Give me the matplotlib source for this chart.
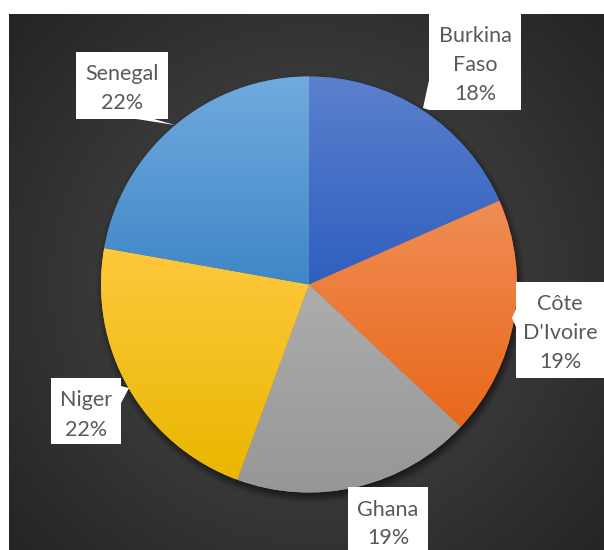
import numpy as np
import matplotlib
matplotlib.use("Agg")
import matplotlib.pyplot as plt
from matplotlib.patches import Rectangle, Polygon
from matplotlib.colors import to_rgb

# ---- data ----
categories = ["Burkina Faso", "Côte D'Ivoire", "Ghana", "Niger", "Senegal"]
values = [18.4, 18.6, 18.6, 22.2, 22.2]

# ---- styles ----
top_colors = ["#5b80cd", "#f08d55", "#adadad", "#ffc83e", "#71aade"]
bot_colors = ["#2f5fbf", "#e8681a", "#969696", "#e9b700", "#3f87c7"]
text_color = "#595959"

W, H = 604, 550
fig = plt.figure(figsize=(W / 100, H / 100), dpi=100, facecolor="white")
ax = fig.add_axes([0, 0, 1, 1])
ax.set_xlim(0, W)
ax.set_ylim(0, H)
ax.axis("off")

def py(y):  # pixel-from-top to data y
    return H - y

# background: radial gradient dark panel
bx0, by0 = 9, 14
cx, cy_px, r = 309, 284.5, 208
cy = py(cy_px)
xs = np.arange(bx0, W) + 0.5
ys = np.arange(by0, H) + 0.5
X, Y = np.meshgrid(xs, ys)
D = np.hypot(X - cx, Y - cy_px)
t = np.clip(D / 430.0, 0, 1)
c0, c1 = 78 / 255, 33 / 255
v = c0 + (c1 - c0) * t
bg = np.dstack([v, v, v])
ax.imshow(bg, extent=[bx0, W, py(H), py(by0)], origin="upper", aspect="auto",
          zorder=0, interpolation="bilinear")

# shadow under pie
sx = np.arange(cx - r - 40, cx + r + 40)
sy = np.arange(cy - r - 40, cy + r + 40)
SX, SY = np.meshgrid(sx, sy)
Ds = np.hypot(SX - (cx + 2), SY - (cy - 5))
a = np.clip((r + 9 - Ds) / 16.0, 0, 1)
a = a * a * (3 - 2 * a) * 0.6
shadow = np.zeros(SX.shape + (4,))
shadow[..., 3] = a
ax.imshow(shadow, extent=[sx[0], sx[-1], sy[0], sy[-1]], origin="lower",
          aspect="auto", zorder=1, interpolation="bilinear")

# pie
wedges, _ = ax.pie(values, startangle=90, counterclock=False, center=(cx, cy),
                   radius=r, colors=bot_colors, frame=True,
                   wedgeprops=dict(linewidth=0, antialiased=True))
for w, tc, bc in zip(wedges, top_colors, bot_colors):
    w.set_zorder(2)
    verts = w.get_path().vertices
    ymin, ymax = verts[:, 1].min(), verts[:, 1].max()
    xmin, xmax = verts[:, 0].min(), verts[:, 0].max()
    n = 256
    tt = np.linspace(0, 1, n)[:, None]
    ct, cb = np.array(to_rgb(tc)), np.array(to_rgb(bc))
    grad = cb[None, :] * (1 - tt) + ct[None, :] * tt  # bottom->top
    grad = np.repeat(grad[:, None, :], 2, axis=1)
    im = ax.imshow(grad, extent=[xmin, xmax, ymin, ymax], origin="lower",
                   aspect="auto", zorder=3, interpolation="bilinear")
    im.set_clip_path(w)

ax.set_xlim(0, W)
ax.set_ylim(0, H)
ax.set_aspect("auto")
ax.axis("off")

# ---- labels (callouts) ----
# box: (x0, y0, x1, y1) in pixels from top-left; text centre; pointer polygon
layout = {
    "Burkina Faso": dict(box=(429, 14, 521, 110), tc=(475, 63),
                         ptr=[(429.5, 78), (429.5, 110), (423, 108)]),
    "Côte D'Ivoire": dict(box=(516, 282, 605, 378), tc=(560, 331),
                          ptr=[(516.5, 308), (516.5, 328), (512, 318)]),
    "Ghana": dict(box=(348, 487, 428, 555), tc=(388, 522), ptr=None),
    "Niger": dict(box=(51, 378, 121, 444), tc=(86, 413),
                  ptr=[(120.5, 386), (120.5, 404), (129, 388)]),
    "Senegal": dict(box=(76, 52, 168, 119), tc=(122, 86.5),
                    ptr=[(133, 118.5), (152, 118.5), (175, 125)]),
}

total = sum(values)
line_h = 29
for cat, val in zip(categories, values):
    L = layout[cat]
    x0, y0, x1, y1 = L["box"]
    ax.add_patch(Rectangle((x0, py(y1)), x1 - x0, y1 - y0, facecolor="white",
                           edgecolor="none", zorder=5))
    if L["ptr"]:
        ax.add_patch(Polygon([(px, py(pyy)) for px, pyy in L["ptr"]], closed=True,
                             facecolor="white", edgecolor="none", zorder=5))
    lines = cat.split(" ") + [f"{round(val / total * 100):.0f}%"]
    tx, tyc = L["tc"]
    n = len(lines)
    for i, s in enumerate(lines):
        yy = tyc + (i - (n - 1) / 2) * line_h
        ax.text(tx, py(yy), s, ha="center", va="center_baseline", fontsize=15.5,
                family=["Lato", "DejaVu Sans"], color=text_color, zorder=6)

fig.savefig("out.png", dpi=100, facecolor="white")
